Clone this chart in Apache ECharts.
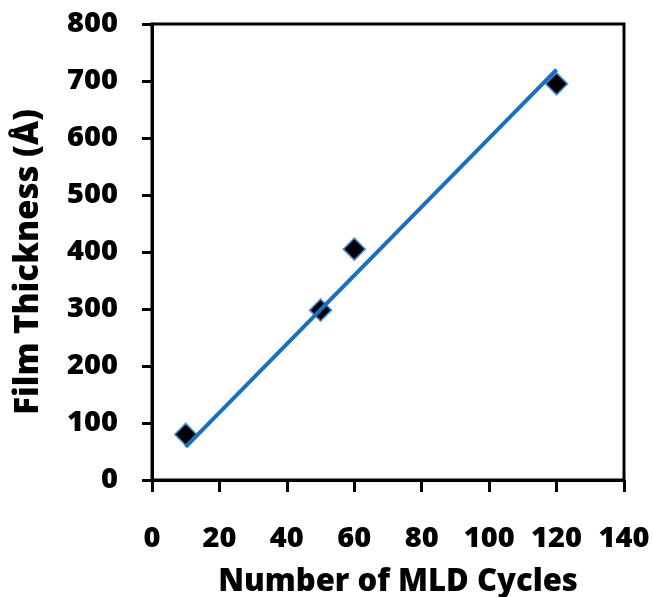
<!DOCTYPE html>
<html>
<head>
<meta charset="utf-8">
<script src="https://cdn.jsdelivr.net/npm/echarts@6/dist/echarts.min.js"></script>
<style>
html,body{margin:0;padding:0;background:#fff;}
#chart{width:653px;height:597px;}
</style>
</head>
<body>
<div id="chart"></div>
<script>
// Data
const cycles = [10, 50, 60, 120];
const thickness = [80, 298, 405, 695];
const fitX = [10, 120];
const fitY = [58, 720];
const xTicks = [0, 20, 40, 60, 80, 100, 120, 140];
const yTicks = [0, 100, 200, 300, 400, 500, 600, 700, 800];

const font = '"Open Sans", sans-serif';
const chart = echarts.init(document.getElementById('chart'), null, {renderer: 'canvas'});
chart.setOption({
  backgroundColor: '#fff',
  animation: false,
  grid: {
    left: 152, right: 29, top: 24, bottom: 117,
    containLabel: false, outerBoundsMode: 'none',
    show: true, borderColor: '#000', borderWidth: 3, backgroundColor: 'transparent'
  },
  xAxis: {
    type: 'value',
    min: xTicks[0], max: xTicks[xTicks.length - 1], interval: 20,
    name: 'Number of MLD Cycles',
    nameLocation: 'middle',
    nameGap: 87,
    nameTextStyle: {fontFamily: font, fontWeight: 800, fontSize: 31, color: '#000', padding: [0, 0, 0, 20]},
    axisLine: {show: true, lineStyle: {color: '#000', width: 3}},
    axisTick: {show: true, inside: false, length: 12, lineStyle: {color: '#000', width: 3}},
    axisLabel: {fontFamily: font, fontWeight: 800, fontSize: 29, color: '#000', margin: 44},
    splitLine: {show: false}
  },
  yAxis: {
    type: 'value',
    min: yTicks[0], max: yTicks[yTicks.length - 1], interval: 100,
    name: 'Film Thickness (Å)',
    nameLocation: 'middle',
    nameGap: 107,
    nameRotate: 90,
    nameTextStyle: {fontFamily: font, fontWeight: 800, fontSize: 33, color: '#000', padding: [0, 20, 0, 0]},
    axisLine: {show: true, lineStyle: {color: '#000', width: 3}},
    axisTick: {show: true, inside: false, length: 10, lineStyle: {color: '#000', width: 3}},
    axisLabel: {fontFamily: font, fontWeight: 800, fontSize: 29, color: '#000', margin: 34},
    splitLine: {show: false}
  },
  series: [
    {
      type: 'scatter',
      data: cycles.map((x, i) => [x, thickness[i]]),
      symbol: 'diamond',
      symbolSize: 22,
      itemStyle: {color: '#000', opacity: 1, borderColor: '#4a90d9', borderWidth: 1.5},
      z: 2
    },
    {
      type: 'line',
      data: fitX.map((x, i) => [x, fitY[i]]),
      showSymbol: false,
      symbol: 'none',
      lineStyle: {color: '#1b6ec2', width: 4},
      z: 3
    }
  ]
});
</script>
</body>
</html>
